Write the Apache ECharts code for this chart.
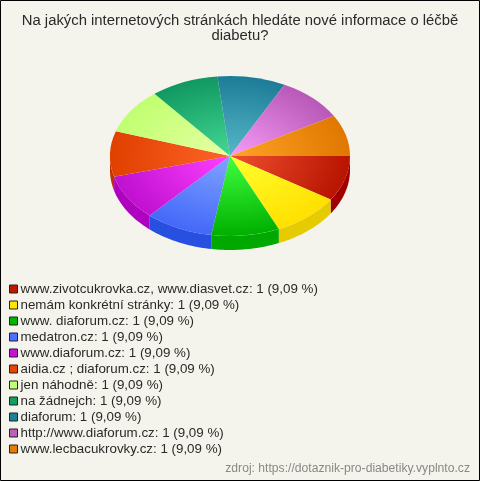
<!DOCTYPE html>
<html><head><meta charset="utf-8">
<style>html,body{margin:0;padding:0;background:#f5f4ec}#c{width:480px;height:481px}</style>
<script src="https://cdn.jsdelivr.net/npm/echarts@6/dist/echarts.min.js"></script>
</head><body><div id="c"></div>
<script>
const titleText = 'Na jakých internetových stránkách hledáte nové informace o léčbě\ndiabetu?';
const sourceText = 'zdroj: https://dotaznik-pro-diabetiky.vyplnto.cz';
const categories = ['www.zivotcukrovka.cz, www.diasvet.cz','nemám konkrétní stránky','www. diaforum.cz','medatron.cz','www.diaforum.cz','aidia.cz ; diaforum.cz','jen náhodně','na žádnejch','diaforum','http://www.diaforum.cz','www.lecbacukrovky.cz'];
const values = [1,1,1,1,1,1,1,1,1,1,1];
const legendColors = ['#bb1a00','#ffe600','#00b800','#4a70ff','#c810d8','#e84400','#c4ff78','#10a060','#208098','#bc60b8','#e87c00'];
const innerColors = ['#ee5030','#ffff30','#40ff40','#80a4ff','#ff40ff','#ff6428','#e8ffa4','#44d894','#58b8c8','#f89cf8','#ffa428'];
const outerColors = ['#b81400','#ffe000','#00b000','#4468f8','#c010d0','#e04000','#c0ff70','#109860','#1c7c98','#b858b8','#e07800'];
const sideColors = ['#a00000','#e4cc00','#00a800','#2850e0','#b000c0','#c03000','#a0d060','#0c8050','#186880','#984898','#c06000'];

const cx = 230, cy = 156, rx = 120, ratio = 2/3, depth = 14;
const total = values.reduce((a,b)=>a+b,0);
const fmtPct = v => (v/total*100).toFixed(2).replace('.',',');
const names = categories.map((c,i)=>`${c}: ${values[i]} (${fmtPct(values[i])} %)`);
// The original renderer sweeps whole degrees per slice; the last slice closes the circle.
const sweepDeg = v => Math.round(v/total*360);

function sliceRender(i){
  return function(params, api){
    const beforeDeg = values.slice(0,i).reduce((a,v)=>a+sweepDeg(v),0);
    const endDeg = i === values.length-1 ? 360 : beforeDeg + sweepDeg(api.value(0));
    const a0 = beforeDeg*Math.PI/180;
    const a1 = endDeg*Math.PI/180;
    const children = [];
    const s0 = Math.max(a0,0), s1 = Math.min(a1,Math.PI);
    if (s1 > s0){
      const pts = [], n = 24;
      for(let k=0;k<=n;k++){const t=s0+(s1-s0)*k/n;pts.push([cx+rx*Math.cos(t),cy+rx*ratio*Math.sin(t)]);}
      for(let k=n;k>=0;k--){const t=s0+(s1-s0)*k/n;pts.push([cx+rx*Math.cos(t),cy+depth+rx*ratio*Math.sin(t)]);}
      children.push({type:'polygon',shape:{points:pts},style:{fill:sideColors[i]}});
    }
    children.push({type:'group',x:cx,y:cy,scaleY:ratio,children:[{
      type:'sector',
      shape:{cx:0,cy:0,r0:0,r:rx,startAngle:a0,endAngle:a1,clockwise:true},
      style:{fill:{type:'radial',x:0,y:0,r:rx,global:true,colorStops:[{offset:0,color:innerColors[i]},{offset:1,color:outerColors[i]}]},stroke:null}
    }]});
    return {type:'group',children};
  };
}

const chart = echarts.init(document.getElementById('c'),null,{renderer:'canvas'});
chart.setOption({
  animation:false,
  backgroundColor:'#f5f4ec',
  title:[
    {text:titleText,left:240,top:13,padding:0,textAlign:'center',textStyle:{fontFamily:'Liberation Sans',fontSize:14.85,fontWeight:'normal',color:'#2a2a2a',lineHeight:15.5}},
    {text:sourceText,right:10,top:463,padding:0,textStyle:{fontFamily:'Liberation Sans',fontSize:12.15,fontWeight:'normal',color:'#888'}}
  ],
  legend:{
    orient:'vertical',left:9,top:282,padding:0,itemGap:2,itemWidth:8,itemHeight:8,icon:'rect',
    selectedMode:false,
    itemStyle:{borderColor:'#222',borderWidth:1},
    textStyle:{fontFamily:'Liberation Sans',fontSize:13.35,color:'#2a2a2a',padding:[2,0,0,-2],height:12,lineHeight:12},
    data:names
  },
  graphic:[{type:'rect',silent:true,z:100,shape:{x:0.5,y:0.5,width:479,height:480},style:{fill:null,stroke:'#000',lineWidth:1}}],
  series:names.map((n,i)=>({
    type:'custom',name:n,coordinateSystem:'none',silent:true,
    itemStyle:{color:legendColors[i]},
    renderItem:sliceRender(i),
    data:[[values[i]]]
  }))
});
</script></body></html>
